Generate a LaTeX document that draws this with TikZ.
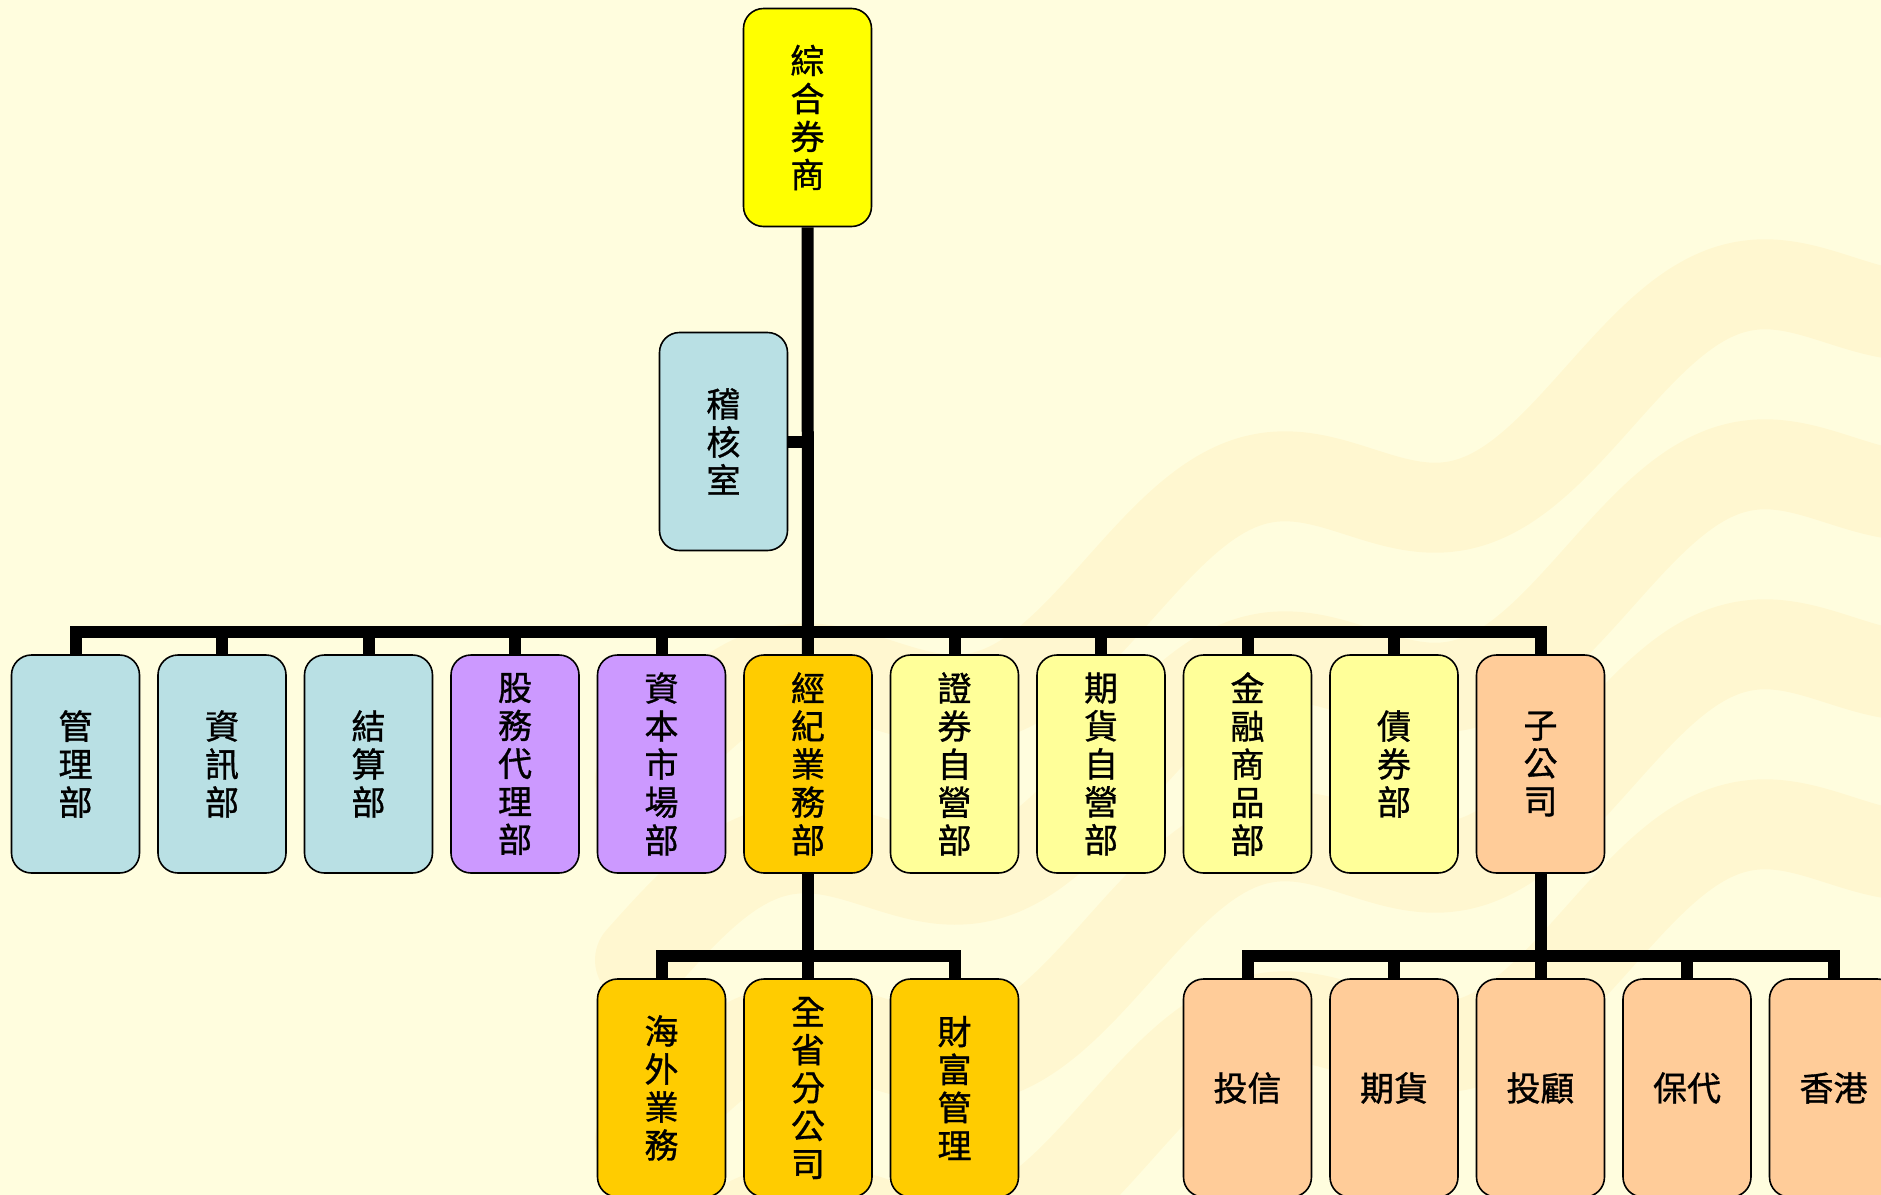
\documentclass[tikz,border=0pt]{standalone}
\usepackage{fontspec}
\setmainfont{Noto Sans CJK TC}[FakeBold=1]

\definecolor{bgcream}{RGB}{255,253,222}
\definecolor{wavegold}{RGB}{255,205,95}
\definecolor{topyellow}{RGB}{255,255,0}
\definecolor{paleblue}{RGB}{185,224,228}
\definecolor{lilac}{RGB}{204,153,255}
\definecolor{gold}{RGB}{255,204,0}
\definecolor{paleyellow}{RGB}{255,255,153}
\definecolor{peach}{RGB}{255,204,153}

\tikzset{
    unit/.style = {draw, line width = 0.8pt, rounded corners = 10pt,
        minimum width = 64pt, minimum height = 109pt, inner sep = 0pt,
        align = center, font = \fontsize{17pt}{19pt}\selectfont},
    link/.style = {line width = 6pt, line join = miter},
    wave/.style = {wavegold, line width = 45pt, opacity = 0.11, line cap = round}
}

\begin{document}
\begin{tikzpicture}[x = 0.5pt, y = -0.5pt]

        % Background and the faint waves on the right.
        \fill[bgcream] (0, 0) rectangle (1881, 1195);
        \useasboundingbox (0, 0) rectangle (1881, 1195);
        \clip (0, 0) rectangle (1881, 1195);
        \foreach \yy in {780, 960, 1140, 1320}
            \draw[wave] plot[domain = 0:1400, samples = 90, smooth]
                ({640 + \x}, {\yy - 0.4*\x - 55*sin(0.75*\x)});

        % Levels of the horizontal bars.
        \coordinate (bar) at (0, 632);
        \coordinate (barlow) at (0, 956);

        % Head office and audit.
        \node[unit, fill = topyellow] (top) at (807.5, 117.5) {綜\\合\\券\\商};
        \node[unit, fill = paleblue] (audit) at (723.5, 441.5) {稽\\核\\室};

        % Departments.
        \node[unit, fill = paleblue] (mgmt) at (75.5, 764) {管\\理\\部};
        \node[unit, fill = paleblue] (info) at (222, 764) {資\\訊\\部};
        \node[unit, fill = paleblue] (clear) at (368.5, 764) {結\\算\\部};
        \node[unit, fill = lilac] (stock) at (515, 764) {股\\務\\代\\理\\部};
        \node[unit, fill = lilac] (capital) at (661.5, 764) {資\\本\\市\\場\\部};
        \node[unit, fill = gold] (broker) at (808, 764) {經\\紀\\業\\務\\部};
        \node[unit, fill = paleyellow] (dealer) at (954.5, 764) {證\\券\\自\\營\\部};
        \node[unit, fill = paleyellow] (futures) at (1101, 764) {期\\貨\\自\\營\\部};
        \node[unit, fill = paleyellow] (deriv) at (1247.5, 764) {金\\融\\商\\品\\部};
        \node[unit, fill = paleyellow] (bond) at (1394, 764) {債\\券\\部};
        \node[unit, fill = peach] (subs) at (1540.5, 764) {子\\公\\司};

        % Brokerage units.
        \node[unit, fill = gold] (overseas) at (661.5, 1088) {海\\外\\業\\務};
        \node[unit, fill = gold] (branch) at (808, 1088) {全\\省\\分\\公\\司};
        \node[unit, fill = gold] (wealth) at (954.5, 1088) {財\\富\\管\\理};

        % Subsidiaries.
        \node[unit, fill = peach] (sitc) at (1247.5, 1088) {投信};
        \node[unit, fill = peach] (fut) at (1394, 1088) {期貨};
        \node[unit, fill = peach] (advisory) at (1540.5, 1088) {投顧};
        \node[unit, fill = peach] (underw) at (1687, 1088) {保代};
        \node[unit, fill = peach] (hk) at (1833.5, 1088) {香港};

        % Trunk, audit branch and the department bar.
        \draw[link] (top) -- (broker);
        \draw[link] (audit) -- (audit -| top);
        \draw[link] (mgmt.north) |- (bar -| subs) -- (subs.north);
        \foreach \n in {info, clear, stock, capital, dealer, futures, deriv, bond}
            \draw[link] (\n.north) -- (\n |- bar);

        % Lower bars.
        \draw[link] (broker) -- (branch);
        \draw[link] (overseas.north) |- (barlow -| wealth) -- (wealth.north);
        \draw[link] (subs) -- (advisory);
        \draw[link] (sitc.north) |- (barlow -| hk) -- (hk.north);
        \foreach \n in {fut, underw}
            \draw[link] (\n.north) -- (\n |- barlow);
    \end{tikzpicture}
\end{document}
